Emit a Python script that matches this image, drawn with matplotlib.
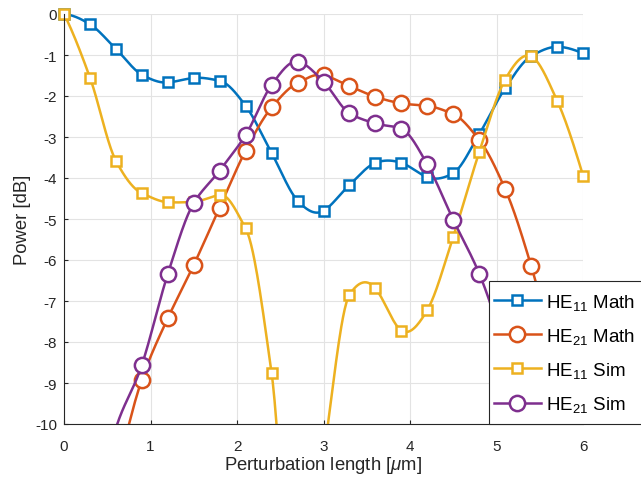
import numpy as np
import matplotlib
matplotlib.use("Agg")
import matplotlib.pyplot as plt
from matplotlib.patches import Rectangle

plt.rcParams['font.family'] = ['Liberation Sans', 'DejaVu Sans']
plt.rcParams['mathtext.fontset'] = 'custom'
plt.rcParams['mathtext.rm'] = 'Liberation Sans'
plt.rcParams['mathtext.it'] = 'Liberation Sans:italic'
plt.rcParams['axes.unicode_minus'] = False

x = np.arange(21) * 0.3
he11_math = [0.0, -0.25, -0.85, -1.48, -1.67, -1.56, -1.63, -2.24, -3.39, -4.55, -4.80,
             -4.17, -3.63, -3.63, -3.98, -3.88, -2.93, -1.81, -1.03, -0.80, -0.96]
he21_math = [-16.0, -13.5, -11.2, -8.92, -7.42, -6.12, -4.72, -3.33, -2.28, -1.68, -1.49,
             -1.76, -2.02, -2.18, -2.24, -2.44, -3.07, -4.27, -6.14, -8.6, -11.5]
he11_sim = [0.0, -1.55, -3.58, -4.37, -4.59, -4.58, -4.41, -5.23, -8.76, -16.0, -10.8,
            -6.85, -6.69, -7.72, -7.22, -5.43, -3.37, -1.60, -1.03, -2.11, -3.94]
he21_sim = [-15.0, -12.5, -10.1, -8.56, -6.34, -4.61, -3.82, -2.95, -1.73, -1.16, -1.65,
            -2.42, -2.67, -2.80, -3.67, -5.02, -6.33, -8.2, -10.5, -12.0, -13.0]
labels = ['HE$_{11}$ Math', 'HE$_{21}$ Math', 'HE$_{11}$ Sim', 'HE$_{21}$ Sim']
colors = ['#0072BD', '#D95319', '#EDB120', '#7E2F8E']
markers = ['s', 'o', 's', 'o']


def makima(xp, yp, xq):
    # modified akima interpolation (like matlab makima)
    xp = np.asarray(xp, float)
    yp = np.asarray(yp, float)
    h = np.diff(xp)
    d = np.diff(yp) / h
    n = len(d)
    de = np.zeros(n + 4)
    de[2:-2] = d
    de[1] = 2 * d[0] - d[1]
    de[0] = 2 * de[1] - d[0]
    de[-2] = 2 * d[-1] - d[-2]
    de[-1] = 2 * de[-2] - d[-1]
    s = np.zeros(len(xp))
    for i in range(len(xp)):
        dm2, dm1, d0, dp1 = de[i], de[i + 1], de[i + 2], de[i + 3]
        w1 = abs(dp1 - d0) + abs(dp1 + d0) / 2
        w2 = abs(dm1 - dm2) + abs(dm1 + dm2) / 2
        if w1 + w2 == 0:
            s[i] = (dm1 + d0) / 2
        else:
            s[i] = (w1 * dm1 + w2 * d0) / (w1 + w2)
    k = np.clip(np.searchsorted(xp, xq) - 1, 0, n - 1)
    t = (xq - xp[k]) / h[k]
    h00 = 2 * t**3 - 3 * t**2 + 1
    h10 = t**3 - 2 * t**2 + t
    h01 = -2 * t**3 + 3 * t**2
    h11 = t**3 - t**2
    return h00 * yp[k] + h10 * h[k] * s[k] + h01 * yp[k + 1] + h11 * h[k] * s[k + 1]


fig = plt.figure(figsize=(6.41, 4.81), dpi=100)
ax = fig.add_axes([64 / 641, 56 / 481, 519 / 641, 410 / 481])

xf = np.linspace(0, 6, 600)
handles = []
for y, c, m, lab in zip([he11_math, he21_math, he11_sim, he21_sim], colors, markers, labels):
    y = np.array(y)
    ax.plot(xf, makima(x, y, xf), color=c, lw=1.8)
    vis = y >= -10
    ms = 7.8 if m == 's' else 11
    ax.plot(x[vis], y[vis], ls='none', marker=m, ms=ms, mfc='white', mec=c, mew=1.8,
            clip_on=False)
    h, = ax.plot([], [], color=c, lw=1.8, marker=m, ms=ms, mfc='white', mec=c, mew=1.8)
    handles.append(h)

ax.set_xlim(0, 6)
ax.set_ylim(-10, 0)
ax.set_xticks(range(7))
ax.set_yticks(range(-10, 1))
ax.grid(True, color='#e3e3e3', lw=0.8)
ax.set_axisbelow(True)
for sp in ['top', 'right']:
    ax.spines[sp].set_visible(False)
for sp in ['left', 'bottom']:
    ax.spines[sp].set_color('#262626')
    ax.spines[sp].set_linewidth(0.8)
ax.tick_params(direction='in', length=3, labelsize=11, colors='#262626', labelcolor='#262626')
ax.tick_params(axis='x', pad=10.5)
ax.tick_params(axis='y', pad=5)
ax.set_xlabel(r'Perturbation length [$\mu$m]', fontsize=13.3, color='#262626', labelpad=1)
ax.set_ylabel('Power [dB]', fontsize=13.3, color='#262626', labelpad=3)

# legend box (runs past the right edge of the figure, like the original)
box = Rectangle((489 / 641, 56 / 481), 170 / 641, 143 / 481, transform=fig.transFigure,
                facecolor='white', edgecolor='#262626', lw=0.8, clip_on=False, zorder=4.9)
ax.add_patch(box)
leg = ax.legend(handles, labels, loc='center left', bbox_to_anchor=(494 / 641, 1 - 354 / 481),
                bbox_transform=fig.transFigure, fontsize=13.5, frameon=False,
                handlelength=2.5, handletextpad=0.25, borderaxespad=0, borderpad=0,
                labelspacing=0.75)

fig.savefig('out.png', dpi=100)
